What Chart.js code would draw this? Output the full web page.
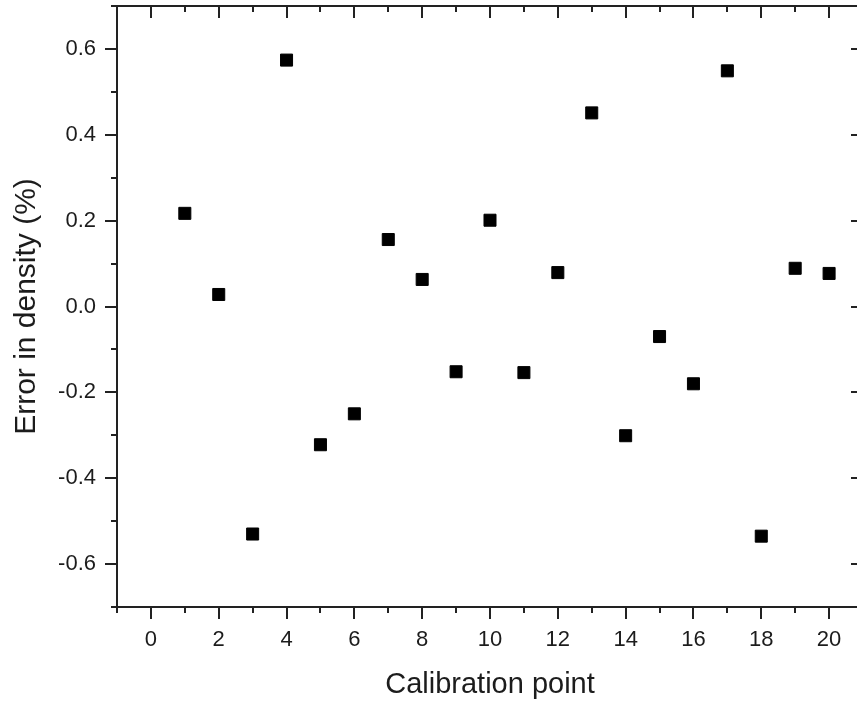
<!DOCTYPE html>
<html>
<head>
<meta charset="utf-8">
<script src="https://cdn.jsdelivr.net/npm/chart.js@4"></script>
<style>
  body { margin: 0; overflow: hidden; background: #fff; }
  canvas { display: block; }
</style>
</head>
<body>
<canvas id="myChart" width="880" height="702"></canvas>
<script>
var calibrationPoints = [1, 2, 3, 4, 5, 6, 7, 8, 9, 10, 11, 12, 13, 14, 15, 16, 17, 18, 19, 20];
var densityError = [0.217, 0.028, -0.530, 0.574, -0.322, -0.250, 0.156, 0.063, -0.152, 0.201,
                    -0.154, 0.079, 0.451, -0.301, -0.070, -0.180, 0.549, -0.535, 0.089, 0.077];

var xMajorTicks = [0, 2, 4, 6, 8, 10, 12, 14, 16, 18, 20];
var xMinorTicks = [-1, 1, 3, 5, 7, 9, 11, 13, 15, 17, 19, 21];
var yMajorTicks = [-0.6, -0.4, -0.2, 0.0, 0.2, 0.4, 0.6];
var yMinorTicks = [-0.7, -0.5, -0.3, -0.1, 0.1, 0.3, 0.5, 0.7];

var axisColor = '#222';
var textColor = '#1c1c1c';
var fontFamily = "'Liberation Sans', Arial, sans-serif";

// frame on all four sides, ticks out on bottom/left, in on top/right
var frameAndTicks = {
    id: 'frameAndTicks',
    beforeDatasetsDraw: function (chart) {
        var ctx = chart.ctx, a = chart.chartArea;
        var x = chart.scales.x, y = chart.scales.y;
        ctx.save();
        ctx.strokeStyle = axisColor;
        ctx.lineWidth = 2;
        ctx.strokeRect(a.left, a.top, a.right - a.left, a.bottom - a.top);
        ctx.beginPath();
        function xTicks(list, len) {
            list.forEach(function (v) {
                var px = Math.round(x.getPixelForValue(v));
                ctx.moveTo(px, a.bottom); ctx.lineTo(px, a.bottom + len);
                ctx.moveTo(px, a.top); ctx.lineTo(px, a.top + len);
            });
        }
        function yTicks(list, len) {
            list.forEach(function (v) {
                var py = Math.round(y.getPixelForValue(v));
                ctx.moveTo(a.left, py); ctx.lineTo(a.left - len, py);
                ctx.moveTo(a.right, py); ctx.lineTo(a.right - len, py);
            });
        }
        xTicks(xMajorTicks, 12);
        xTicks(xMinorTicks, 6);
        yTicks(yMajorTicks, 12);
        yTicks(yMinorTicks, 6);
        ctx.stroke();
        ctx.restore();
    }
};

var ctx = document.getElementById('myChart').getContext('2d');
var myChart = new Chart(ctx, {
    type: 'scatter',
    data: {
        datasets: [{
            data: calibrationPoints.map(function (p, i) { return {x: p, y: densityError[i]}; }),
            pointStyle: 'rect',
            pointRadius: 8.5,
            pointHoverRadius: 8.5,
            borderWidth: 1,
            borderColor: '#000',
            backgroundColor: '#000'
        }]
    },
    options: {
        responsive: false,
        animation: false,
        events: [],
        layout: { autoPadding: false, padding: { top: 6, right: 17, left: 0, bottom: 0 } },
        plugins: { legend: { display: false }, tooltip: { enabled: false } },
        scales: {
            x: {
                type: 'linear',
                min: -1, max: 21,
                afterBuildTicks: function (s) { s.ticks = xMajorTicks.map(function (v) { return {value: v}; }); },
                afterFit: function (s) { s.height = 95; s.paddingLeft = 0; s.paddingRight = 0; },
                grid: { display: false, drawTicks: true, tickLength: 12 },
                border: { display: false },
                ticks: {
                    color: textColor, padding: 8, maxRotation: 0, autoSkip: false,
                    font: { family: fontFamily, size: 22 },
                    callback: function (v) { return String(v); }
                },
                title: {
                    display: true,
                    text: 'Calibration point',
                    color: textColor,
                    font: { family: fontFamily, size: 29, lineHeight: 1.2 },
                    padding: { top: 0, bottom: 0 }
                }
            },
            y: {
                type: 'linear',
                min: -0.7, max: 0.7,
                afterBuildTicks: function (s) { s.ticks = yMajorTicks.map(function (v) { return {value: v}; }); },
                afterFit: function (s) { s.width = 117; s.paddingTop = 0; s.paddingBottom = 0; },
                grid: { display: false, drawTicks: true, tickLength: 12 },
                border: { display: false },
                ticks: {
                    color: textColor, padding: 9, autoSkip: false,
                    font: { family: fontFamily, size: 22 },
                    callback: function (v) { return v.toFixed(1); }
                },
                title: {
                    display: true,
                    text: 'Error in density (%)',
                    color: textColor,
                    font: { family: fontFamily, size: 30, lineHeight: 1.2 },
                    padding: { top: 9, bottom: 0 }
                }
            }
        }
    },
    plugins: [frameAndTicks]
});
</script>
</body>
</html>
